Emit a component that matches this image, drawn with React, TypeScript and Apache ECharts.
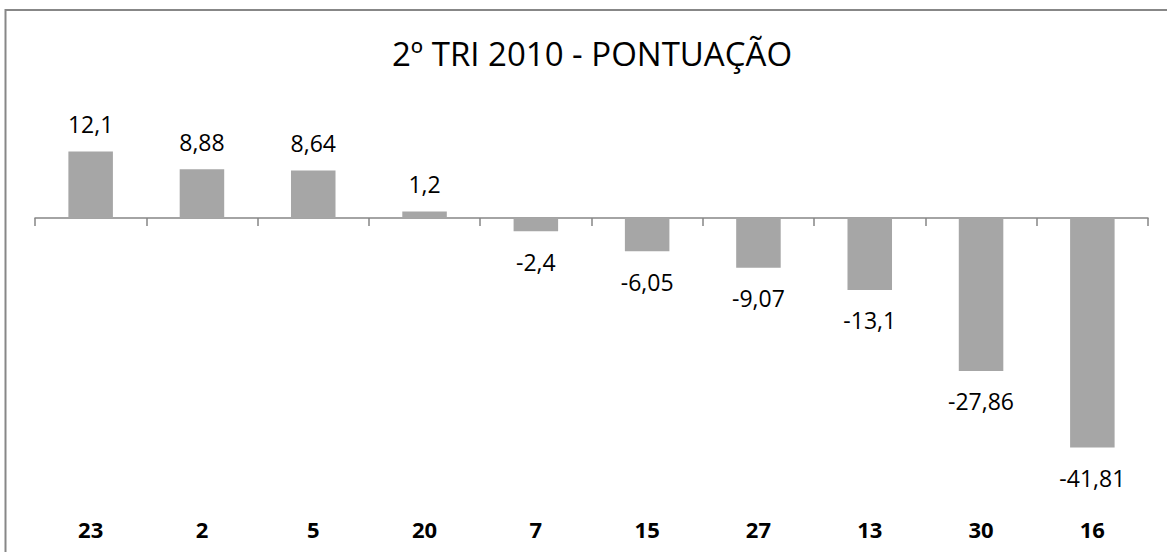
import React, { useEffect, useRef } from "react";
import * as echarts from "echarts";

const categories = ["23", "2", "5", "20", "7", "15", "27", "13", "30", "16"];
const scores = [12.1, 8.88, 8.64, 1.2, -2.4, -6.05, -9.07, -13.1, -27.86, -41.81];
const titleText = "2º TRI 2010 - PONTUAÇÃO";

const FONT = "'Open Sans', sans-serif";

export default function App() {
  const ref = useRef<HTMLDivElement>(null);
  useEffect(() => {
    if (!ref.current) return;
    const chart = echarts.init(ref.current, null, { renderer: "svg" });
    const data = scores.map((v) => ({
      value: v,
      label: {
        position: v >= 0 ? "top" : "bottom",
        distance: v >= 0 ? 16 : 19,
      },
    }));
    chart.setOption({
      animation: false,
      backgroundColor: "#ffffff",
      graphic: [
        {
          type: "rect",
          shape: { x: 5.5, y: 10, width: 1300, height: 700 },
          style: { fill: "none", stroke: "#878787", lineWidth: 2 },
          silent: true,
        },
        {
          type: "text",
          x: 592,
          y: 53,
          style: {
            text: titleText,
            font: `33px ${FONT}`,
            fill: "#000000",
            textAlign: "center",
            textVerticalAlign: "middle",
          },
        },
      ],
      grid: { left: 35, right: 19, top: 108.2, bottom: 59.5, containLabel: false },
      xAxis: [
        {
          type: "category",
          data: categories,
          position: "bottom",
          axisLine: { show: true, onZero: true, lineStyle: { color: "#868686", width: 1.5 } },
          axisTick: { show: true, alignWithLabel: false, length: 8, lineStyle: { color: "#868686", width: 1.5 } },
          axisLabel: { show: false },
          splitLine: { show: false },
        },
        {
          type: "category",
          data: categories,
          position: "bottom",
          axisLine: { show: false, onZero: false },
          axisTick: { show: false },
          axisLabel: {
            show: true,
            margin: 25,
            fontFamily: FONT,
            fontSize: 22,
            fontWeight: "bold",
            color: "#000000",
          },
          splitLine: { show: false },
        },
      ],
      yAxis: {
        type: "value",
        min: -50,
        max: 20,
        show: false,
        splitLine: { show: false },
      },
      series: [
        {
          type: "bar",
          xAxisIndex: 0,
          data,
          barWidth: "40%",
          itemStyle: { color: "#a6a6a6" },
          label: {
            show: true,
            fontFamily: FONT,
            fontSize: 23,
            color: "#000000",
            formatter: (p: any) => String(p.value).replace(".", ","),
          },
        },
      ],
    });
    return () => chart.dispose();
  }, []);
  return (
    <div
      ref={ref}
      style={{ position: "fixed", left: 0, top: 0, width: 1167, height: 552 }}
    />
  );
}
